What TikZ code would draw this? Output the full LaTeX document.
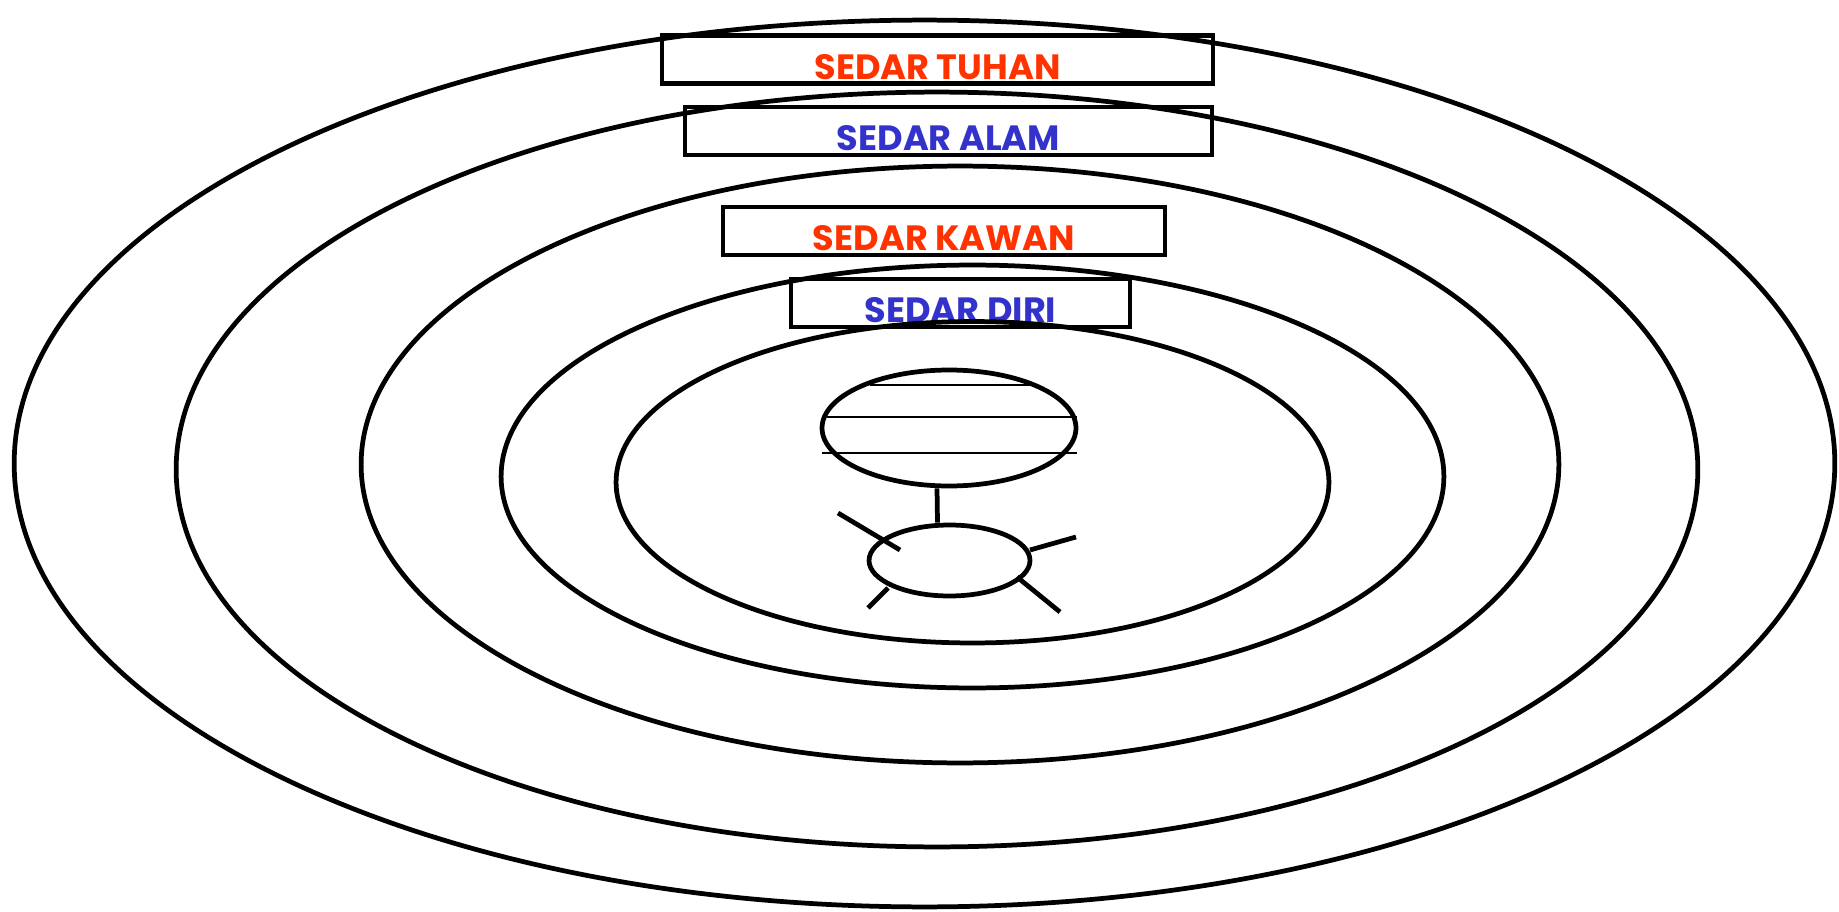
\documentclass[tikz,border=0pt]{standalone}
\usepackage{fontspec}
\setmainfont{Poppins}
\usepackage{tikz}
\usetikzlibrary{positioning,shapes.geometric}

\definecolor{sedarred}{HTML}{FF3300}
\definecolor{sedarblue}{HTML}{3333CC}

\begin{document}
\begin{tikzpicture}[x=0.02cm,y=-0.02cm,
	ring/.style={line width=2.7pt},
	sedarbox/.style={draw,line width=2.7pt,rectangle,inner sep=0pt,outer sep=0pt,
		font=\bfseries\fontsize{20}{20}\selectfont,
		text height=22.7pt,text depth=0pt,minimum height=0.96cm},
	limb/.style={line width=2.7pt},
	stripe/.style={line width=1.5pt}]
	
	\useasboundingbox (0,0) rectangle (1839,912);
	
	% Rings
	\draw[ring] (924.5,463.5) ellipse [x radius=18.21cm,y radius=8.87cm];
	\draw[ring] (937,469.5) ellipse [x radius=15.22cm,y radius=7.55cm];
	\draw[ring] (960,464.5) ellipse [x radius=11.98cm,y radius=5.97cm];
	\draw[ring] (972.5,476.5) ellipse [x radius=9.43cm,y radius=4.23cm];
	
	% Labels
	\node[sedarbox,text=sedarred,minimum width=11.02cm] (tuhan) at (937.5,59.5) {SEDAR TUHAN};
	\node[sedarbox,text=sedarblue,minimum width=10.54cm] (alam) at (948.5,131) {SEDAR ALAM};
	\node[sedarbox,text=sedarred,minimum width=8.84cm] (kawan) at (944,231) {SEDAR KAWAN};
	\node[sedarbox,text=sedarblue,minimum width=6.78cm] (diri) at (960.5,303) {SEDAR DIRI};
	
	% Inner ring
	\draw[ring,fill=white] (972.5,482.25) ellipse [x radius=7.13cm,y radius=3.215cm];
	\draw[line width=2.7pt] (diri.north west) rectangle (diri.south east);
	
	% Figure
	\node[draw,ellipse,line width=2.7pt,inner sep=0pt,minimum width=5.08cm,minimum height=2.32cm] (head) at (949,428) {};
	\node[draw,ellipse,line width=2.7pt,inner sep=0pt,minimum width=3.22cm,minimum height=1.42cm] (body) at (949.5,560.5) {};
	\draw[stripe] (870,385)--(1030,385);
	\draw[stripe] (827,417)--(1077,417);
	\draw[stripe] (822,453)--(1077,453);
	\draw[limb] ([xshift=-0.24cm]head.south)--([xshift=-0.24cm]body.north);
	\draw[limb] (838,513)--(900,550);
	\draw[limb] (1030,550)--(1076,537);
	\draw[limb] (888,588)--(868,608);
	\draw[limb] (1017,577)--(1060,612);
	
\end{tikzpicture}
\end{document}
